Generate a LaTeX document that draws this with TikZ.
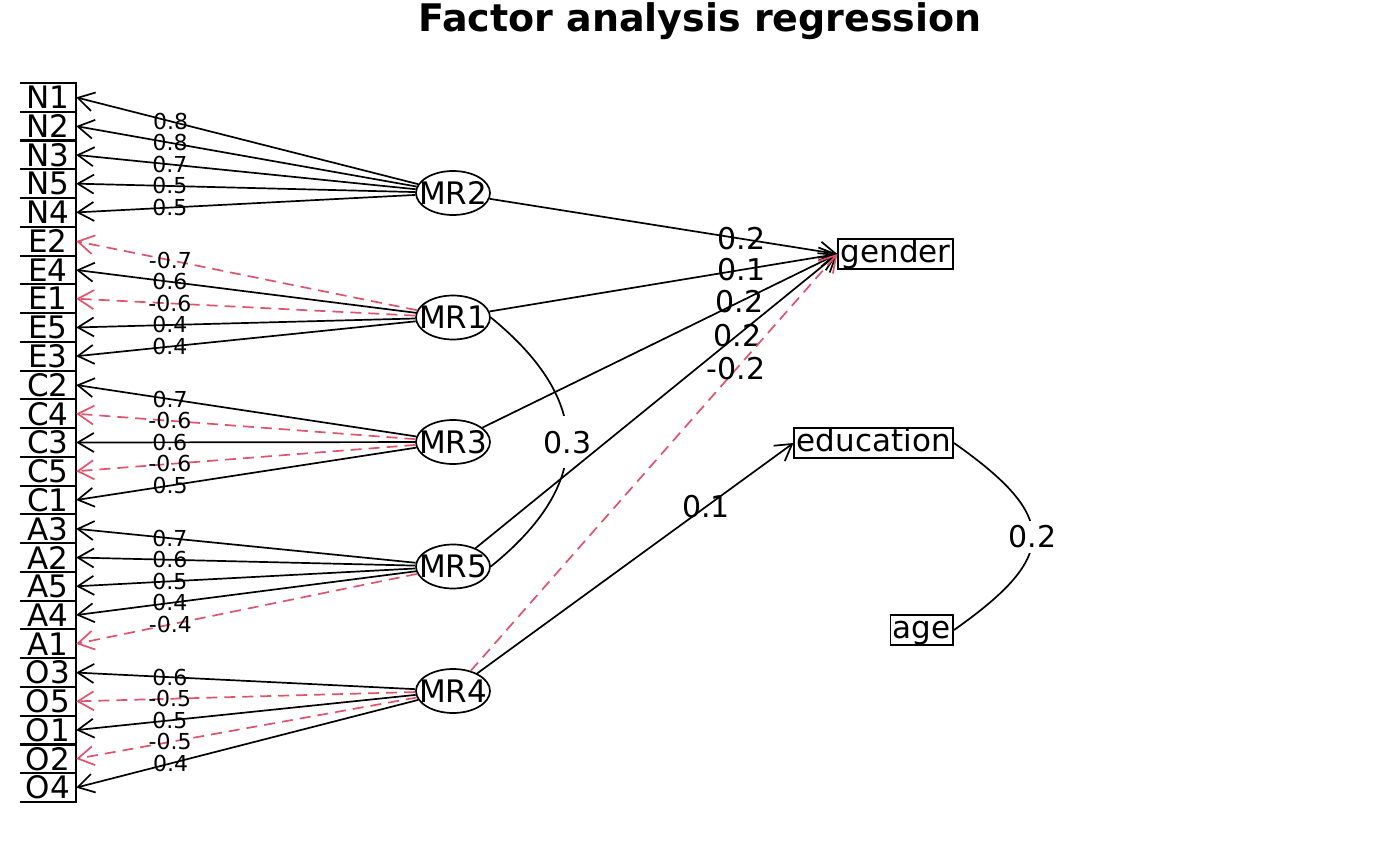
\documentclass[tikz,border=0pt]{standalone}
\usepackage{fontspec}
\setmainfont{DejaVu Sans}
\usetikzlibrary{arrows.meta,shapes.geometric}
\definecolor{negred}{HTML}{DF536B}
\tikzset{
  item/.style={minimum width=56pt, minimum height=28.76pt, inner sep=0pt, font=\fontsize{31}{31}\selectfont},
  factor/.style={draw, ellipse, line width=1.7pt, minimum width=74pt, minimum height=44pt, inner xsep=-8pt, inner ysep=0pt, font=\fontsize{31}{31}\selectfont},
  var/.style={draw, line width=1.7pt, anchor=east, inner xsep=2.5pt, inner ysep=0.5pt, text height=23pt, text depth=6pt, font=\fontsize{31}{31}\selectfont},
  load/.style={-{Straight Barb[length=16pt, width=19pt]}, line width=1.7pt},
  negload/.style={load, negred, dash pattern=on 11pt off 7pt},
  lab/.style={pos=0.724, text=black, font=\fontsize{22}{22}\selectfont},
  rlab/.style={pos=0.724, text=black, font=\fontsize{30}{30}\selectfont},
  clab/.style={pos=0.5, fill=white, inner sep=0pt, minimum width=40pt, font=\fontsize{30}{30}\selectfont},
}
\begin{document}
\begin{tikzpicture}[x=1pt, y=-1pt]
    \useasboundingbox (0,0) rectangle (1400,866);
    \node[font=\bfseries\fontsize{38}{38}\selectfont] (title) at (700,21) {Factor analysis regression};

    % Items
    \foreach \v [count=\i] in {N1,N2,N3,N5,N4,E2,E4,E1,E5,E3,C2,C4,C3,C5,C1,A3,A2,A5,A4,A1,O3,O5,O1,O2,O4} {
        \node[item] (\v) at (48,{83+(\i-0.5)*28.76}) {\v};
        \draw[line width=1.7pt] (\v.north west) -- (\v.north east) -- (\v.south east) -- (\v.south west);
    }

    % Factors
    \foreach \f [count=\i] in {MR2,MR1,MR3,MR5,MR4} {
        \node[factor] (\f) at (453,{193+(\i-1)*124.5}) {\f};
    }

    % Criteria
    \node[var] (gender) at (954,254) {gender};
    \node[var] (education) at (954,443) {education};
    \node[var] (age) at (954,630) {age};

    % Loadings
    \foreach \f/\v/\w in {MR2/N1/0.8, MR2/N2/0.8, MR2/N3/0.7, MR2/N5/0.5, MR2/N4/0.5,
        MR1/E4/0.6, MR1/E5/0.4, MR1/E3/0.4, MR3/C2/0.7, MR3/C3/0.6, MR3/C1/0.5,
        MR5/A3/0.7, MR5/A2/0.6, MR5/A5/0.5, MR5/A4/0.4, MR4/O3/0.6, MR4/O1/0.5, MR4/O4/0.4} {
        \draw[load] (\f) -- node[lab] {\w} (\v.east);
    }
    \foreach \f/\v/\w in {MR1/E2/-0.7, MR1/E1/-0.6, MR3/C4/-0.6, MR3/C5/-0.6,
        MR5/A1/-0.4, MR4/O5/-0.5, MR4/O2/-0.5} {
        \draw[negload] (\f) -- node[lab] {\w} (\v.east);
    }

    % Correlations
    \draw[line width=1.7pt] (MR1.east) .. controls (593,401) and (593,484) .. node[clab, minimum height=52pt] {0.3} (MR5.east);
    \draw[line width=1.7pt] (education.east) .. controls (1059,517) and (1059,556) .. node[clab, minimum height=32pt] {0.2} (age.east);

    % Regressions
    \draw[load] (MR2) -- node[rlab] {0.2} (gender.west);
    \draw[load] (MR1) -- node[rlab] {0.1} (gender.west);
    \draw[load] (MR3) -- node[rlab] {0.2} (gender.west);
    \draw[load] (MR5) -- node[rlab] {0.2} (gender.west);
    \draw[negload] (MR4) -- node[rlab] {-0.2} (gender.west);
    \draw[load] (MR4) -- node[rlab] {0.1} (education.west);
\end{tikzpicture}
\end{document}
